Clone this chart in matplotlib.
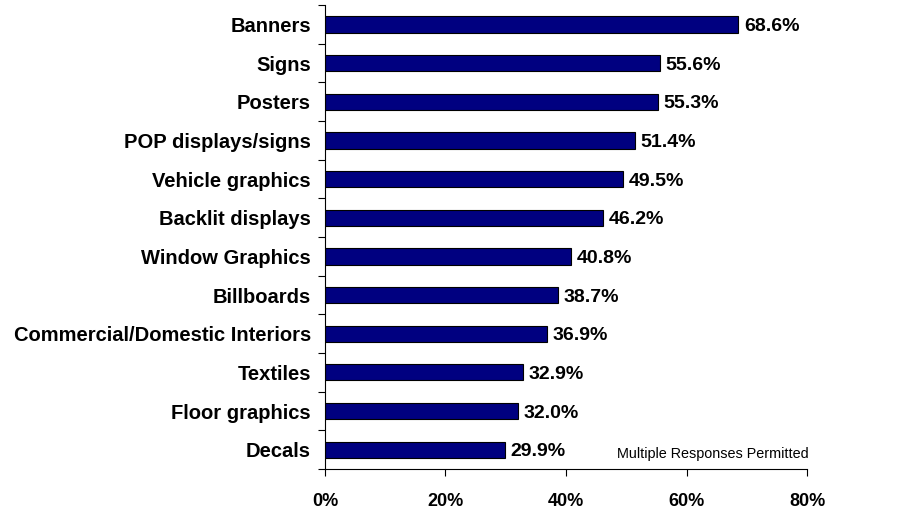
import matplotlib
matplotlib.use("Agg")
import matplotlib.pyplot as plt
import numpy as np

categories = ["Banners", "Signs", "Posters", "POP displays/signs", "Vehicle graphics",
              "Backlit displays", "Window Graphics", "Billboards",
              "Commercial/Domestic Interiors", "Textiles", "Floor graphics", "Decals"]
values = [68.6, 55.6, 55.3, 51.4, 49.5, 46.2, 40.8, 38.7, 36.9, 32.9, 32.0, 29.9]
xticks = [0, 20, 40, 60, 80]
xtick_labels = ["0%", "20%", "40%", "60%", "80%"]

plt.rcParams["font.family"] = ["Liberation Sans", "DejaVu Sans"]

fig = plt.figure(figsize=(9.02, 5.12), dpi=100)
ax = fig.add_axes([0.3603, 0.084, 0.5344, 0.906])

n = len(categories)
y = np.arange(n)[::-1]
ax.barh(y, values, height=0.42, color="#000080", edgecolor="black", linewidth=0.8)

for yi, v in zip(y, values):
    ax.annotate(f"{v:.1f}%", xy=(v, yi), xytext=(4, 0), textcoords="offset points",
                va="center_baseline", ha="left", fontsize=14, fontweight="bold")

ax.set_xlim(0, 80)
ax.set_ylim(-0.5, n - 0.5)
ax.set_xticks(xticks)
ax.set_xticklabels(xtick_labels, fontsize=13, fontweight="bold")
ax.set_yticks(y)
ax.set_yticklabels(categories, fontsize=14.5, fontweight="bold")
ax.set_yticks(np.arange(n + 1) - 0.5, minor=True)

ax.tick_params(axis="y", which="major", length=0, pad=10)
ax.tick_params(axis="y", which="minor", length=5, direction="out", width=0.8)
ax.tick_params(axis="x", which="major", length=5, direction="out", width=0.8, pad=12)

for side in ["top", "right"]:
    ax.spines[side].set_visible(False)
for side in ["left", "bottom"]:
    ax.spines[side].set_linewidth(0.8)

ax.text(80.3, -0.1, "Multiple Responses Permitted", ha="right", va="center", fontsize=10.4)

fig.savefig("out.png", dpi=100)
